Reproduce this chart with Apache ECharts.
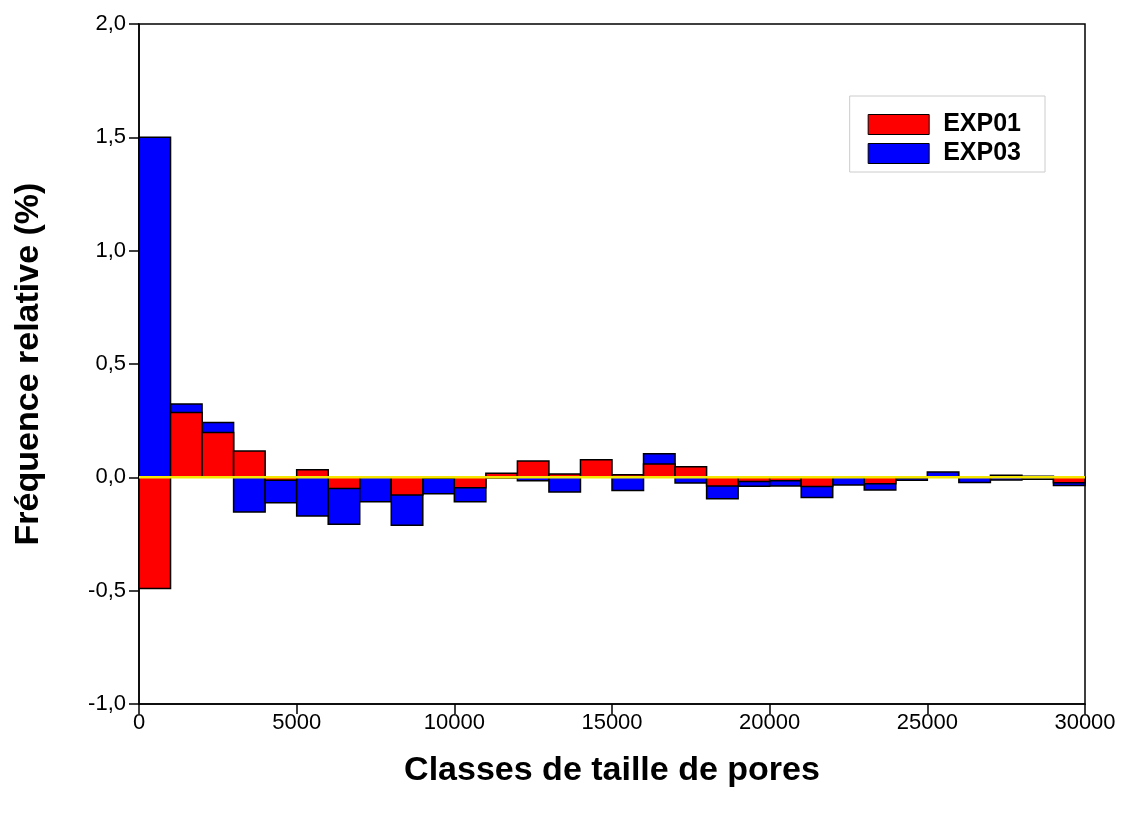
<!DOCTYPE html>
<html>
<head>
<meta charset="utf-8">
<script src="https://cdn.jsdelivr.net/npm/echarts@6/dist/echarts.min.js"></script>
<style>
html, body { margin: 0; padding: 0; background: #fff; }
#main { width: 1129px; height: 816px; }
</style>
</head>
<body>
<div id="main"></div>
<script>
// bins of 1000, from 0 to 30000
var binStarts = [0, 1000, 2000, 3000, 4000, 5000, 6000, 7000, 8000, 9000,
    10000, 11000, 12000, 13000, 14000, 15000, 16000, 17000, 18000, 19000,
    20000, 21000, 22000, 23000, 24000, 25000, 26000, 27000, 28000, 29000];
var binWidth = 1000;
var exp01 = [-0.49, 0.286, 0.198, 0.116, -0.013, 0.034, -0.049, 0, -0.078, -0.004,
    -0.046, 0.018, 0.072, 0.015, 0.078, 0.011, 0.059, 0.047, -0.038, -0.018,
    -0.015, -0.04, 0, -0.028, -0.003, 0, 0, 0.009, 0.005, -0.024];
var exp03 = [1.5, 0.324, 0.242, -0.153, -0.112, -0.171, -0.207, -0.108, -0.211, -0.072,
    -0.108, -0.003, -0.015, -0.065, 0, -0.058, 0.104, -0.025, -0.094, -0.039,
    -0.038, -0.089, -0.034, -0.056, -0.013, 0.024, -0.023, -0.012, -0.009, -0.036];

var chartDom = document.getElementById('main');
var myChart = echarts.init(chartDom, null, { renderer: 'canvas' });

function toData(vals) {
    return binStarts.map(function (x, i) { return [x, x + binWidth, vals[i]]; });
}

function renderBin(params, api) {
    var p0 = api.coord([api.value(0), 0]);
    var p1 = api.coord([api.value(1), api.value(2)]);
    return {
        type: 'rect',
        shape: {
            x: p0[0], y: Math.min(p0[1], p1[1]),
            width: p1[0] - p0[0], height: Math.abs(p1[1] - p0[1])
        },
        style: api.style()
    };
}

var font = 'Liberation Sans, Arial, sans-serif';
var option = {
    animation: false,
    textStyle: { fontFamily: font },
    grid: { left: 139, right: 44, top: 24, bottom: 112, show: true, borderColor: '#000', borderWidth: 1.5 },
    legend: {
        right: 84, top: 96,
        orient: 'vertical',
        icon: 'rect',
        padding: [16, 24, 6, 18],
        itemGap: 4,
        itemWidth: 61, itemHeight: 20,
        borderColor: '#ccc', borderWidth: 1,
        textStyle: { fontSize: 25, fontWeight: 'bold', color: '#000', fontFamily: font, padding: [0, 0, 0, 9] },
        data: [
            { name: 'EXP01', itemStyle: { color: '#ff0000', borderColor: '#000', borderWidth: 1 } },
            { name: 'EXP03', itemStyle: { color: '#0000ff', borderColor: '#000', borderWidth: 1 } }
        ]
    },
    xAxis: {
        type: 'value', min: 0, max: 30000, interval: 5000,
        name: 'Classes de taille de pores', nameLocation: 'middle', nameGap: 50,
        nameTextStyle: { fontSize: 34, fontWeight: 'bold', color: '#000', fontFamily: font },
        axisLine: { onZero: false, lineStyle: { color: '#000', width: 1.5 } },
        axisTick: { length: 10, lineStyle: { color: '#000', width: 1.5 } },
        axisLabel: { fontSize: 22, color: '#000', margin: 8, formatter: function (v) { return String(v); } },
        splitLine: { show: false }
    },
    yAxis: {
        type: 'value', min: -1, max: 2, interval: 0.5,
        name: 'Fréquence relative (%)', nameLocation: 'middle', nameGap: 93, nameRotate: 90,
        nameTextStyle: { fontSize: 34, fontWeight: 'bold', color: '#000', fontFamily: font },
        axisLine: { show: true, lineStyle: { color: '#000', width: 1.5 } },
        axisTick: { length: 10, lineStyle: { color: '#000', width: 1.5 } },
        axisLabel: {
            fontSize: 22, color: '#000', margin: 13,
            formatter: function (v) { return v.toFixed(1).replace('.', ','); }
        },
        splitLine: { show: false }
    },
    series: [
        {
            name: 'EXP03', type: 'custom', renderItem: renderBin,
            encode: { x: [0, 1], y: 2 },
            itemStyle: { color: '#0000ff', borderColor: '#000', borderWidth: 1.5 },
            data: toData(exp03), z: 2
        },
        {
            name: 'EXP01', type: 'custom', renderItem: renderBin,
            encode: { x: [0, 1], y: 2 },
            itemStyle: { color: '#ff0000', borderColor: '#000', borderWidth: 1.5 },
            data: toData(exp01), z: 3
        },
        {
            name: 'zero', type: 'line', data: [[0, 0], [30000, 0]],
            symbol: 'none', silent: true, z: 5,
            lineStyle: { color: '#f5e600', width: 2.5 }
        }
    ]
};
option && myChart.setOption(option);
</script>
</body>
</html>
